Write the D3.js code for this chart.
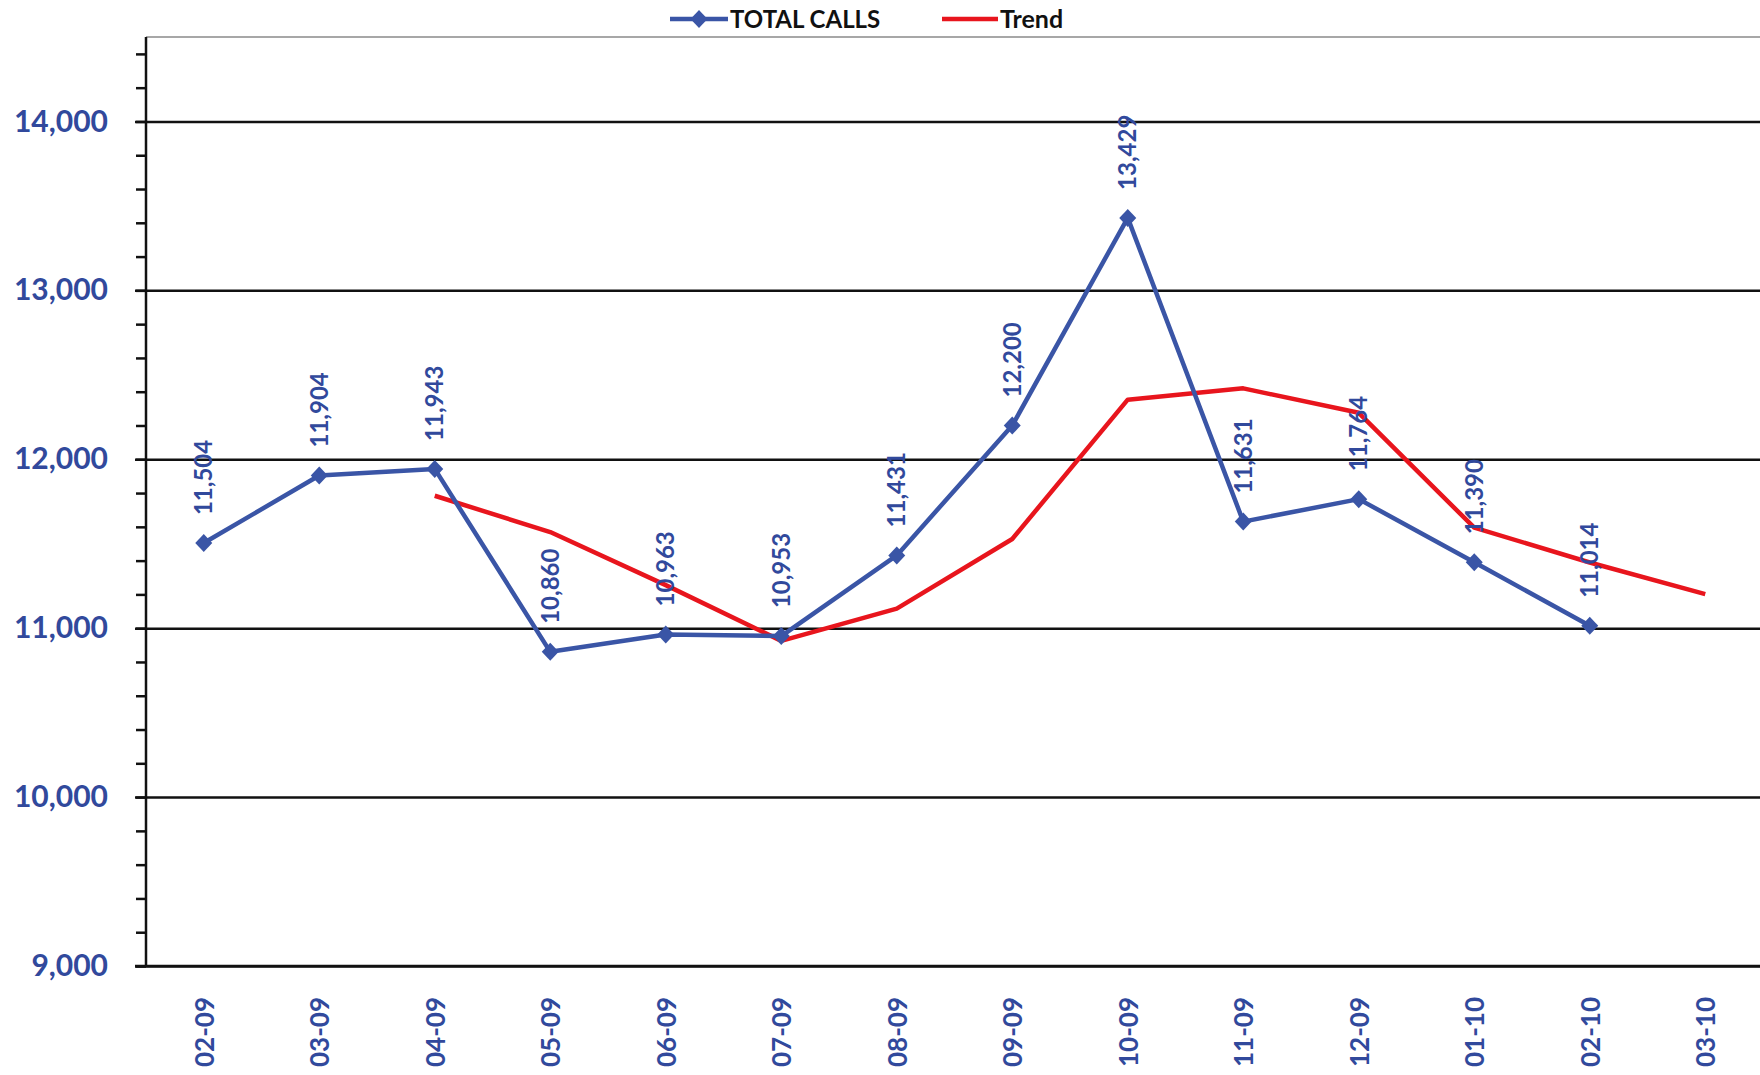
<!DOCTYPE html>
<html>
<head>
<meta charset="utf-8">
<script src="https://cdn.jsdelivr.net/npm/d3@7"></script>
<style>
  html, body { margin: 0; padding: 0; background: #ffffff; }
  svg { display: block; }
  text { font-family: Lato, "Open Sans", sans-serif; font-weight: 700; }
</style>
</head>
<body>
<script>
// Monthly call volumes and the running trend line
const months = ["02-09","03-09","04-09","05-09","06-09","07-09","08-09","09-09","10-09","11-09","12-09","01-10","02-10","03-10"];
const totalCalls = [11504, 11904, 11943, 10860, 10963, 10953, 11431, 12200, 13429, 11631, 11764, 11390, 11014];
const trendMonths = ["04-09","05-09","06-09","07-09","08-09","09-09","10-09","11-09","12-09","01-10","02-10","03-10"];
const trendValues = [11784, 11569, 11255, 10925, 11116, 11528, 12353, 12420, 12275, 11595, 11389, 11202];
const yTicks = [9000, 10000, 11000, 12000, 13000, 14000];
const seriesNames = ["TOTAL CALLS", "Trend"];

const W = 1760, H = 1075;
const plotLeft = 146, plotRight = 1763, plotTop = 37, plotBottom = 966;
const BLUE = "#3a55a6", LABEL_BLUE = "#31499c", RED = "#e8151d";

const svg = d3.select("body").append("svg").attr("width", W).attr("height", H);

const x = d3.scalePoint().domain(months).range([plotLeft, plotRight]).padding(0.5);
const y = d3.scaleLinear().domain([9000, 14500]).range([plotBottom, plotTop]);
const fmt = d3.format(",");

// plot-area top border
svg.append("line")
  .attr("x1", plotLeft).attr("x2", W).attr("y1", plotTop).attr("y2", plotTop)
  .attr("stroke", "#8a8a8a").attr("stroke-width", 1.5);

// horizontal gridlines (also serve as major ticks)
const grid = svg.append("g").attr("transform", `translate(${plotLeft},0)`)
  .call(d3.axisLeft(y).tickValues(yTicks).tickSize(-(W - plotLeft)).tickFormat(""));
grid.select(".domain").remove();
grid.selectAll(".tick line").attr("stroke", "#111").attr("stroke-width", 2.5)
  .attr("x1", -11);

// left axis with minor ticks
const yAxis = svg.append("g").attr("transform", `translate(${plotLeft},0)`)
  .call(d3.axisLeft(y).tickValues(d3.range(9000, 14501, 200)).tickSize(10).tickPadding(28)
    .tickFormat(d => yTicks.includes(d) ? fmt(d) : ""));
yAxis.select(".domain").attr("stroke", "#111").attr("stroke-width", 2.5)
  .attr("d", `M0,${plotTop}V${plotBottom}`);
yAxis.selectAll(".tick line").attr("stroke", "#111").attr("stroke-width", 2.5);
yAxis.selectAll(".tick text").attr("fill", LABEL_BLUE).style("font-size", "30px")
  .style("font-family", "Lato, sans-serif").style("font-weight", 700);

// bottom axis
const xAxis = svg.append("g").attr("transform", `translate(0,${plotBottom})`)
  .call(d3.axisBottom(x).tickSize(0).tickPadding(0));
xAxis.select(".domain").attr("stroke", "#111").attr("stroke-width", 2.5)
  .attr("d", `M${plotLeft - 11},0H${W}`);
xAxis.selectAll(".tick text")
  .attr("fill", LABEL_BLUE).style("font-size", "26px")
  .style("font-family", "Lato, sans-serif").style("font-weight", 700)
  .attr("text-anchor", "end")
  .attr("transform", "translate(0,31) rotate(-90)")
  .attr("x", 0).attr("y", 0).attr("dy", "0.36em");

// trend line
const trendData = trendMonths.map((m, i) => ({ m, v: trendValues[i] }));
svg.append("path").datum(trendData)
  .attr("fill", "none").attr("stroke", RED).attr("stroke-width", 4.5)
  .attr("stroke-linejoin", "round")
  .attr("d", d3.line().x(d => x(d.m)).y(d => y(d.v)));

// total calls line
const callData = totalCalls.map((v, i) => ({ m: months[i], v }));
svg.append("path").datum(callData)
  .attr("fill", "none").attr("stroke", BLUE).attr("stroke-width", 4.5)
  .attr("stroke-linejoin", "round")
  .attr("d", d3.line().x(d => x(d.m)).y(d => y(d.v)));

// diamond markers
const diamond = "M0,-9L8.5,0L0,9L-8.5,0Z";
svg.append("g").selectAll("path").data(callData).join("path")
  .attr("d", diamond).attr("fill", BLUE)
  .attr("transform", d => `translate(${x(d.m)},${y(d.v)})`);

// value labels above each point, rotated
svg.append("g").selectAll("text").data(callData).join("text")
  .attr("transform", d => `translate(${x(d.m)},${y(d.v) - 28}) rotate(-90)`)
  .attr("text-anchor", "start").attr("dy", "0.36em")
  .attr("fill", LABEL_BLUE).style("font-size", "24px")
  .text(d => fmt(d.v));

// legend
const lg = svg.append("g");
lg.append("line").attr("x1", 670).attr("x2", 728).attr("y1", 19).attr("y2", 19)
  .attr("stroke", BLUE).attr("stroke-width", 4.5);
lg.append("path").attr("d", diamond).attr("fill", BLUE).attr("transform", "translate(699,19)");
lg.append("text").attr("x", 730).attr("y", 28).attr("fill", "#111")
  .style("font-size", "24px").text(seriesNames[0]);
lg.append("line").attr("x1", 942).attr("x2", 998).attr("y1", 19).attr("y2", 19)
  .attr("stroke", RED).attr("stroke-width", 4.5);
lg.append("text").attr("x", 1000).attr("y", 28).attr("fill", "#111")
  .style("font-size", "25px").text(seriesNames[1]);
</script>
</body>
</html>
